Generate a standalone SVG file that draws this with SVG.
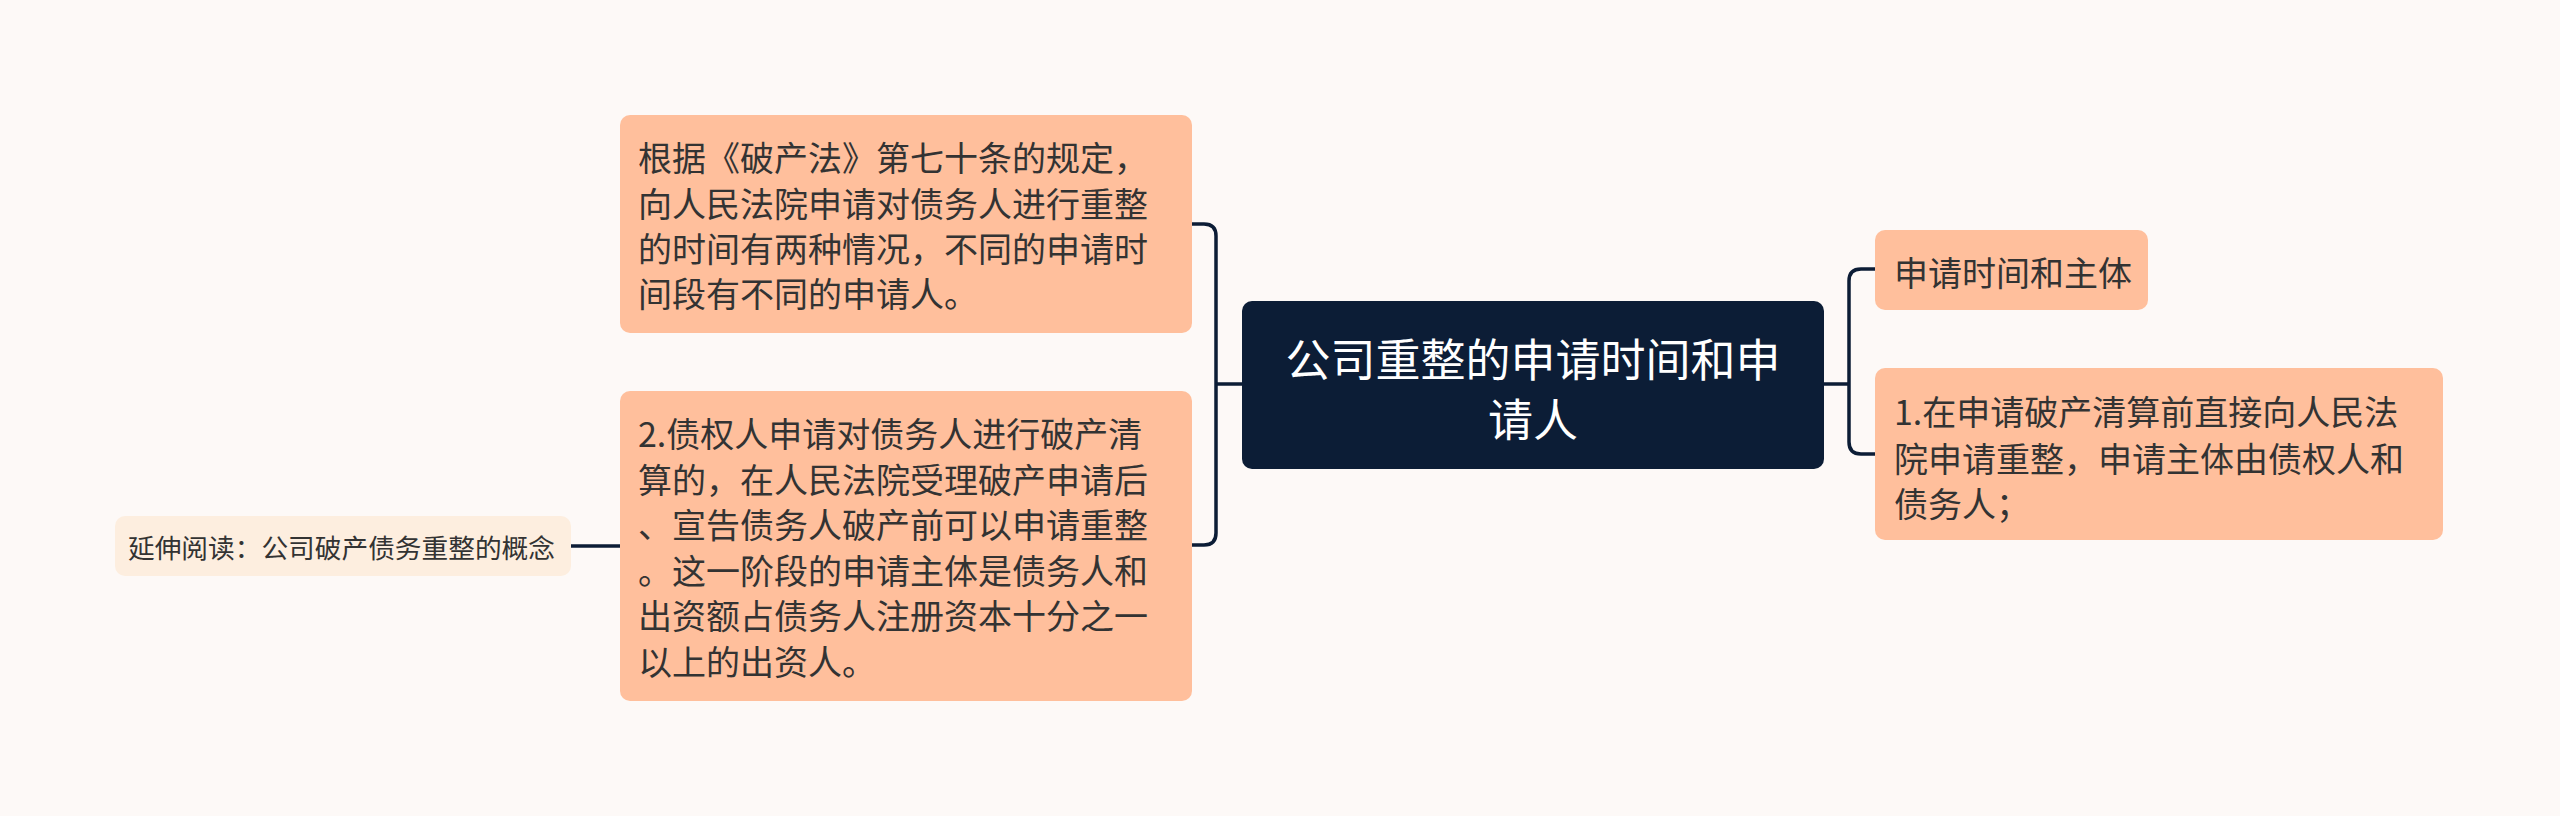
<svg xmlns="http://www.w3.org/2000/svg" width="2560" height="816" viewBox="0 0 2560 816">
<style>
.bg{fill:#FDF9F7}
.peach{fill:#FFBF9C}
.light{fill:#FDEEDF}
.root{fill:#0C1D36}
.t{font-family:"Noto Sans CJK SC","Noto Sans",sans-serif;font-size:34px;fill:#333333;dominant-baseline:central}
.ts{font-family:"Noto Sans CJK SC","Noto Sans",sans-serif;font-size:26.7px;fill:#333333;dominant-baseline:central}
.tr{font-family:"Noto Sans CJK SC","Noto Sans",sans-serif;font-size:45px;fill:#FFFFFF;dominant-baseline:central;text-anchor:middle}
.c{fill:none;stroke:#0C1D36;stroke-width:3.5}
</style>
<rect class="bg" x="0" y="0" width="2560" height="816"/>
<g id="connectors">
<path class="c" d="M1242 384 H1216 M1192 224 H1204 Q1216 224 1216 236 V533 Q1216 545 1204 545 H1192"/>
<path class="c" d="M1824 384 H1849 M1875 269 H1861 Q1849 269 1849 281 V442 Q1849 454 1861 454 H1875"/>
<path class="c" d="M571 546 H620"/>
</g>
<g id="root">
<rect class="root" x="1242" y="301" width="582" height="168" rx="10"/>
<text class="tr" x="1533" y="357">公司重整的申请时间和申</text>
<text class="tr" x="1533" y="417">请人</text>
</g>
<g id="left1">
<rect class="peach" x="620" y="115" width="572" height="218" rx="10"/>
<text class="t" x="638" y="156">根据《破产法》第七十条的规定，</text>
<text class="t" x="638" y="202">向人民法院申请对债务人进行重整</text>
<text class="t" x="638" y="247">的时间有两种情况，不同的申请时</text>
<text class="t" x="638" y="292">间段有不同的申请人。</text>
</g>
<g id="left2">
<rect class="peach" x="620" y="391" width="572" height="310" rx="10"/>
<text class="t" x="638" y="432">2.债权人申请对债务人进行破产清</text>
<text class="t" x="638" y="478">算的，在人民法院受理破产申请后</text>
<text class="t" x="638" y="523">、宣告债务人破产前可以申请重整</text>
<text class="t" x="638" y="569">。这一阶段的申请主体是债务人和</text>
<text class="t" x="638" y="614">出资额占债务人注册资本十分之一</text>
<text class="t" x="638" y="660">以上的出资人。</text>
</g>
<g id="extra">
<rect class="light" x="115" y="516" width="456" height="60" rx="10"/>
<text class="ts" x="128" y="546">延伸阅读：公司破产债务重整的概念</text>
</g>
<g id="right1">
<rect class="peach" x="1875" y="230" width="273" height="80" rx="10"/>
<text class="t" x="1894" y="271">申请时间和主体</text>
</g>
<g id="right2">
<rect class="peach" x="1875" y="368" width="568" height="172" rx="10"/>
<text class="t" x="1894" y="410">1.在申请破产清算前直接向人民法</text>
<text class="t" x="1894" y="457">院申请重整，申请主体由债权人和</text>
<text class="t" x="1894" y="502">债务人；</text>
</g>
</svg>
